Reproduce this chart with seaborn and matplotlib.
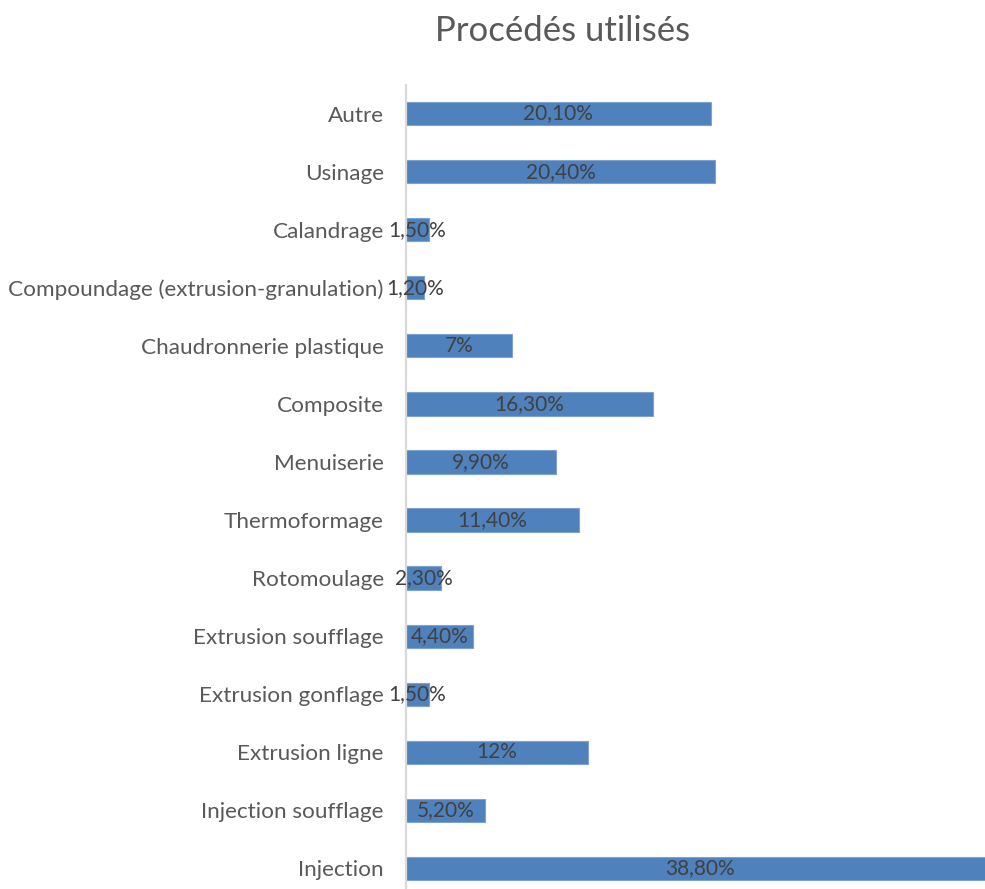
import matplotlib
matplotlib.use("Agg")
import matplotlib.pyplot as plt
import seaborn as sns
import pandas as pd

categories = [
    "Autre", "Usinage", "Calandrage", "Compoundage (extrusion-granulation)",
    "Chaudronnerie plastique", "Composite", "Menuiserie", "Thermoformage",
    "Rotomoulage", "Extrusion soufflage", "Extrusion gonflage",
    "Extrusion ligne", "Injection soufflage", "Injection",
]
values = [20.1, 20.4, 1.5, 1.2, 7.0, 16.3, 9.9, 11.4, 2.3, 4.4, 1.5, 12.0, 5.2, 38.8]
title = "Procédés utilisés"


def fmt(v):
    if float(v).is_integer():
        return f"{int(v)}%"
    return f"{v:.2f}".replace(".", ",") + "%"


labels = [fmt(v) for v in values]
df = pd.DataFrame({"procede": categories, "part": values})

sns.set_theme(style="white")
plt.rcParams["font.family"] = ["Lato", "DejaVu Sans"]

fig = plt.figure(figsize=(9.85, 8.89), dpi=100)
ax = fig.add_axes([406 / 985, -8.5 / 889, 588 / 985, 813 / 889])

sns.barplot(data=df, x="part", y="procede", orient="h", color="#4F81BD",
            width=0.4, edgecolor="#7FA3D1", linewidth=0.8, saturation=1,
            ax=ax)

ax.set_xlim(0, max(values))
ax.set_ylim(len(categories) - 0.5, -0.5)
for s in ["top", "right", "bottom"]:
    ax.spines[s].set_visible(False)
ax.spines["left"].set_color("#d9d9d9")
ax.spines["left"].set_linewidth(1.6)
ax.set_xticks([])
ax.set_xlabel("")
ax.set_ylabel("")
ax.tick_params(axis="y", length=0, pad=16, labelsize=16.2, labelcolor="#595959")

ax.bar_label(ax.containers[0], labels=labels, label_type="center",
             fontsize=15, color="#404040", clip_on=False)

fig.text(563 / 985, 1 - 31 / 889, title, ha="center", va="center",
         fontsize=25, color="#595959")

fig.savefig("out.png", dpi=100)
